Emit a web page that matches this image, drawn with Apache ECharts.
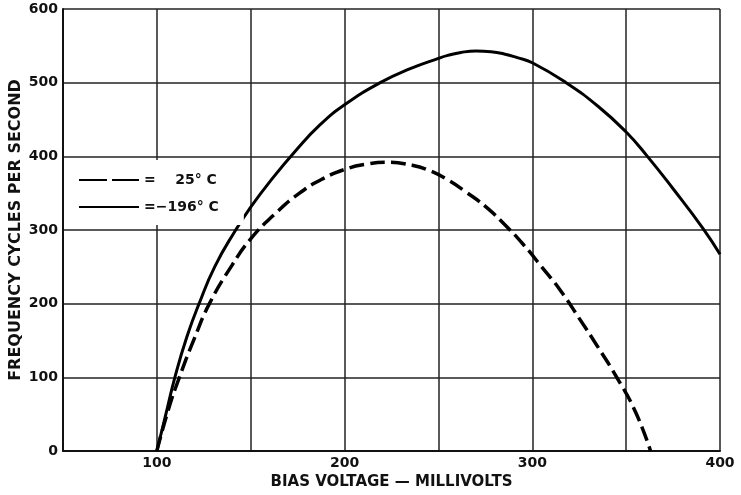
<!DOCTYPE html>
<html>
<head>
<meta charset="utf-8">
<script src="https://cdn.jsdelivr.net/npm/echarts@6/dist/echarts.min.js"></script>
<style>
  html, body { margin: 0; padding: 0; background: #fff; }
  #main { width: 741px; height: 495px; }
</style>
</head>
<body>
<div id="main"></div>
<script>
// bias voltage (mV) vs frequency (cycles/s)
var coldX = [100, 105, 109.6, 116, 122.5, 131, 142, 150, 160, 174.4, 187, 200, 219, 235, 250, 255, 262, 270, 278, 285, 292, 300, 318, 335, 350, 361, 375, 391, 400];
var coldY = [0, 52, 100, 155, 200, 251, 300, 331, 365, 409, 443, 470, 500, 519, 533, 537, 541, 543, 542, 539, 534, 527, 500, 468, 433, 401, 356, 302, 267];

var warmX = [100, 106, 112, 120, 128, 140, 150, 163, 176, 188, 201, 212, 222, 236, 245, 255, 265, 275, 285, 295, 305, 315, 325, 335, 345, 355, 363];
var warmY = [0, 55, 100, 153, 200, 252, 288, 322, 350, 369, 383, 389.5, 392, 388, 381, 368, 351, 332, 308, 281, 250, 218, 180, 141, 100, 53, 0];

var xTicks = [100, 200, 300, 400];
var warmName = '25° C';
var coldName = '−196° C';

function pairs(xs, ys) {
    var out = [];
    for (var i = 0; i < xs.length; i++) {
        out.push([xs[i], ys[i]]);
    }
    return out;
}

var font = 'DejaVu Sans';
var ink = '#111';

var myChart = echarts.init(document.getElementById('main'));
var option = {
    backgroundColor: '#fff',
    animation: false,
    textStyle: { fontFamily: font, color: ink },
    grid: { left: 63, right: 21, top: 9, bottom: 44, outerBoundsMode: 'none' },
    legend: {
        left: 64,
        top: 160,
        orient: 'vertical',
        backgroundColor: '#fff',
        padding: [13, 25, 11, 14],
        itemGap: 13,
        itemWidth: 60,
        itemHeight: 12,
        itemStyle: { opacity: 0 },
        textStyle: { fontFamily: font, fontSize: 14, fontWeight: 'bold', color: ink },
        formatter: function (name) {
            return name == warmName ? '=    ' + name : '=' + name;
        },
        data: [
            { name: warmName, lineStyle: { type: [28, 5] } },
            { name: coldName }
        ]
    },
    xAxis: {
        type: 'value',
        min: 50,
        max: 400,
        interval: 50,
        name: 'BIAS VOLTAGE — MILLIVOLTS',
        nameLocation: 'middle',
        nameGap: 24,
        nameMoveOverlap: false,
        nameTextStyle: { fontFamily: font, fontSize: 15, fontWeight: 'bold', color: ink },
        axisLine: { lineStyle: { color: ink, width: 2 } },
        axisTick: { show: false },
        axisLabel: {
            margin: 5,
            fontFamily: font,
            fontSize: 14,
            fontWeight: 'bold',
            color: ink,
            formatter: function (v) {
                return xTicks.indexOf(v) >= 0 ? String(v) : '';
            }
        },
        splitLine: { lineStyle: { color: '#222', width: 1.5 } }
    },
    yAxis: {
        type: 'value',
        min: 0,
        max: 600,
        interval: 100,
        name: 'FREQUENCY CYCLES PER SECOND',
        nameLocation: 'middle',
        nameGap: 39,
        nameMoveOverlap: false,
        nameTextStyle: { fontFamily: font, fontSize: 16, fontWeight: 'bold', color: ink },
        axisLine: { show: true, lineStyle: { color: ink, width: 2 } },
        axisTick: { show: false },
        axisLabel: { margin: 5, fontFamily: font, fontSize: 14, fontWeight: 'bold', color: ink },
        splitLine: { lineStyle: { color: '#222', width: 1.5 } }
    },
    series: [
        {
            name: warmName,
            type: 'line',
            data: pairs(warmX, warmY),
            smooth: 0.5,
            showSymbol: false,
            symbol: 'none',
            itemStyle: { color: '#000' },
            lineStyle: { color: '#000', width: 3.5, type: [15, 6] },
            z: 3
        },
        {
            name: coldName,
            type: 'line',
            data: pairs(coldX, coldY),
            smooth: 0.5,
            showSymbol: false,
            symbol: 'none',
            itemStyle: { color: '#000' },
            lineStyle: { color: '#000', width: 3 },
            z: 3
        }
    ]
};
myChart.setOption(option);
</script>
</body>
</html>
